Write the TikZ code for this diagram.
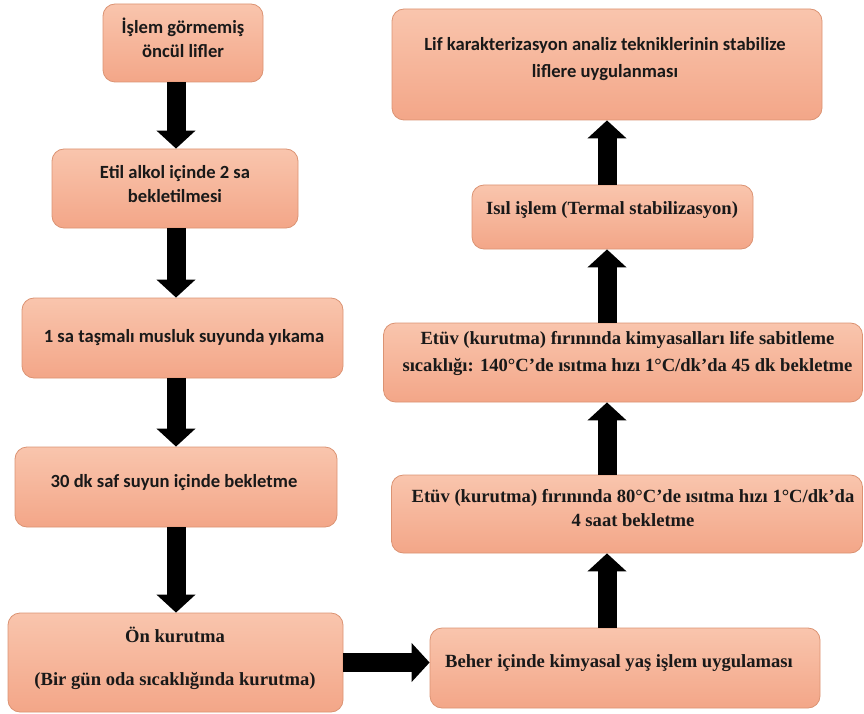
\documentclass[tikz,border=0pt]{standalone}
\usepackage{fontspec}
\setmainfont{Liberation Serif}
\newfontfamily\calfont{Carlito}
\newfontfamily\tmsfont{Liberation Serif}[BoldFont={Liberation Serif Bold}]
\usetikzlibrary{arrows.meta}
\definecolor{boxtop}{HTML}{F9C5AD}
\definecolor{boxbot}{HTML}{F3A688}
\definecolor{boxline}{HTML}{DB9373}
\begin{document}
\begin{tikzpicture}[x=1pt,y=-1pt,
  box/.style={rectangle, rounded corners=12pt, draw=boxline, line width=0.8pt,
    top color=boxtop, bottom color=boxbot, inner sep=0pt},
  caltext/.style={align=center, inner sep=0pt, text=black!90,
    font={\calfont\bfseries\fontsize{18.6}{24}\selectfont}},
  tmstext/.style={align=center, inner sep=0pt, text=black!90,
    font={\tmsfont\bfseries\fontsize{18.6}{27}\selectfont}},
  bigarrow/.style={line width=19pt, black, -{Triangle[length=18pt,width=38pt]}}]
\useasboundingbox (0,0) rectangle (864,714);
% left column boxes
\node[box, minimum width=160, minimum height=78] (b1) at (183,43) {};
\node[box, minimum width=246, minimum height=79] (b2) at (175,188.5) {};
\node[box, minimum width=321, minimum height=80] (b3) at (182.5,338) {};
\node[box, minimum width=322, minimum height=80] (b4) at (176,487) {};
\node[box, minimum width=335, minimum height=99] (b5) at (175.5,662.5) {};
% right column boxes
\node[box, minimum width=430, minimum height=111] (r1) at (607,64.5) {};
\node[box, minimum width=281, minimum height=64] (r2) at (612.5,217) {};
\node[box, minimum width=479, minimum height=79] (r3) at (623,362.5) {};
\node[box, minimum width=471, minimum height=78] (r4) at (627,514) {};
\node[box, minimum width=390, minimum height=80] (r5) at (625,668) {};
% texts
\node[caltext] (t1) at (183,38) {İşlem görmemiş\\öncül lifler};
\node[caltext] (t2) at (175,184) {Etil alkol içinde 2 sa\\bekletilmesi};
\node[caltext] (t3) at (184,338) {1 sa taşmalı musluk suyunda yıkama};
\node[caltext] (t4) at (174,483) {30 dk saf suyun içinde bekletme};
\node[tmstext, font={\tmsfont\bfseries\fontsize{18.6}{43}\selectfont}] (t5) at (175,658) {Ön kurutma\\(Bir gün oda sıcaklığında kurutma)};
\node[caltext, font={\calfont\bfseries\fontsize{18.6}{27}\selectfont}] (u1) at (605,59) {Lif karakterizasyon analiz tekniklerinin stabilize\\liflere uygulanması};
\node[tmstext] (u2) at (612,210) {Isıl işlem (Termal stabilizasyon)};
\node[tmstext] (u3) at (627.5,353.5) {Etüv (kurutma) fırınında kimyasalları life sabitleme\\sıcaklığı: 140°C’de ısıtma hızı 1°C/dk’da 45 dk bekletme};
\node[tmstext, font={\tmsfont\bfseries\fontsize{18.6}{24}\selectfont}] (u4) at (633,508) {Etüv (kurutma) fırınında 80°C’de ısıtma hızı 1°C/dk’da\\4 saat bekletme};
\node[tmstext] (u5) at (619,663) {Beher içinde kimyasal yaş işlem uygulaması};
% arrows
\coordinate (Lx) at (176,0);
\coordinate (Rx) at (607,0);
\draw[bigarrow] (Lx |- b1.south) -- (Lx |- b2.north);
\draw[bigarrow] (Lx |- b2.south) -- (Lx |- b3.north);
\draw[bigarrow] (Lx |- b3.south) -- (Lx |- b4.north);
\draw[bigarrow] (Lx |- b4.south) -- (Lx |- b5.north);
\draw[bigarrow] (b5.east) -- (b5.east -| r5.west);
\draw[bigarrow] (Rx |- r5.north) -- (Rx |- r4.south);
\draw[bigarrow] (Rx |- r4.north) -- (Rx |- r3.south);
\draw[bigarrow] (Rx |- r3.north) -- (Rx |- r2.south);
\draw[bigarrow] (Rx |- r2.north) -- (Rx |- r1.south);
\end{tikzpicture}
\end{document}
